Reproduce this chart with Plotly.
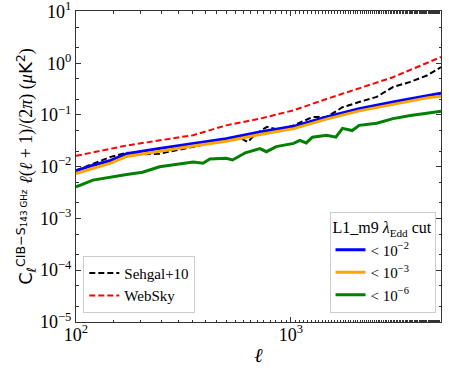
import plotly.graph_objects as go

# multipole values and spectra
ell_websky = [100, 172, 351, 500, 718, 1030, 1466, 2080, 2990, 5000]
cl_websky = [0.0162, 0.0257, 0.0407, 0.063, 0.085, 0.123, 0.204, 0.324, 0.537, 1.32]

ell_sehgal = [100, 120, 145, 172, 204, 245, 351, 500, 575, 630, 690, 775, 890,
              1030, 1260, 1466, 1740, 2080, 2510, 2990, 3600, 4300, 5000]
cl_sehgal = [0.0085, 0.0115, 0.0155, 0.0186, 0.0174, 0.0178, 0.024, 0.033, 0.037,
             0.030, 0.044, 0.059, 0.051, 0.063, 0.091, 0.091, 0.141, 0.178, 0.224,
             0.347, 0.437, 0.58, 0.84]

ell_cut = [100, 120, 145, 172, 245, 351, 500, 718, 1030, 1466, 2080, 2990, 4300, 5000]
cl_cut2 = [0.0083, 0.0107, 0.0132, 0.0178, 0.0224, 0.0282, 0.0347, 0.0468, 0.0603,
           0.0912, 0.132, 0.178, 0.240, 0.263]
cl_cut3 = [0.0074, 0.0094, 0.0117, 0.0158, 0.0200, 0.0252, 0.0310, 0.0420, 0.0545,
           0.0830, 0.120, 0.162, 0.214, 0.230]

ell_cut6 = [100, 120, 172, 204, 245, 351, 390, 420, 500, 535, 614, 718, 770, 855,
            1030, 1100, 1180, 1260, 1466, 1620, 1740, 1930, 2080, 2510, 2990, 3600,
            4300, 5000]
cl_cut6 = [0.0041, 0.0055, 0.0071, 0.0078, 0.0100, 0.0123, 0.0117, 0.0141, 0.0145,
           0.0135, 0.0186, 0.0224, 0.0195, 0.0245, 0.0282, 0.0324, 0.0288, 0.0372,
           0.0407, 0.0372, 0.055, 0.050, 0.063, 0.069, 0.085, 0.098, 0.108, 0.118]

font = "Liberation Serif"
dash = "6px,3px"

fig = go.Figure()
fig.add_trace(go.Scatter(x=ell_sehgal, y=cl_sehgal, mode="lines", name="Sehgal+10",
                         line=dict(color="black", width=2, dash=dash), legend="legend"))
fig.add_trace(go.Scatter(x=ell_websky, y=cl_websky, mode="lines", name="WebSky",
                         line=dict(color="red", width=2, dash=dash), legend="legend"))
fig.add_trace(go.Scatter(x=ell_cut, y=cl_cut2, mode="lines", name="&lt; 10<sup>−2</sup>",
                         line=dict(color="blue", width=3), legend="legend2"))
fig.add_trace(go.Scatter(x=ell_cut, y=cl_cut3, mode="lines", name="&lt; 10<sup>−3</sup>",
                         line=dict(color="orange", width=3), legend="legend2"))
fig.add_trace(go.Scatter(x=ell_cut6, y=cl_cut6, mode="lines", name="&lt; 10<sup>−6</sup>",
                         line=dict(color="green", width=3), legend="legend2"))

axis_common = dict(
    type="log", showgrid=False, zeroline=False, automargin=False,
    showline=True, linecolor="#333", linewidth=1, mirror="allticks",
    ticks="inside", ticklen=5, tickcolor="#333",
    minor=dict(ticks="inside", ticklen=2.5, tickcolor="#333", showgrid=False),
    tickfont=dict(family=font, size=18, color="black"),
    ticklabeloverflow="allow",
)

serif = "<span style='font-family:Liberation Serif'>"
ytitle = ("C<sub><i>ℓ</i></sub><sup>CIB−S<sub>143 GHz</sub></sup> "
          + serif + "<i>ℓ</i>(<i>ℓ</i> + 1)/(2<i>π</i>) (<i>μ</i></span>K<sup>2</sup>"
          + serif + ")</span>")

fig.update_layout(
    width=449, height=374,
    margin=dict(l=76, r=8, t=11, b=52),
    plot_bgcolor="white", paper_bgcolor="white",
    font=dict(family=font, color="black"),
    xaxis=dict(
        axis_common, range=[2, 3.699],
        tickvals=[100, 1000], ticktext=["10<sup>2</sup>", "10<sup>3</sup>"],
        ticklabelstandoff=-4,
        title=dict(text="<i>ℓ</i>", font=dict(family=font, size=20), standoff=4),
    ),
    yaxis=dict(
        axis_common, range=[-5.002, 1.01],
        tickvals=[1e-5, 1e-4, 1e-3, 1e-2, 1e-1, 1, 10],
        ticktext=["10<sup>−5</sup>", "10<sup>−4</sup>", "10<sup>−3</sup>", "10<sup>−2</sup>",
                  "10<sup>−1</sup>", "10<sup>0</sup>", "10<sup>1</sup>"],
        title=dict(text=ytitle, font=dict(family="DejaVu Sans", size=18), standoff=2),
    ),
    legend=dict(
        x=0.02, y=0.03, xanchor="left", yanchor="bottom",
        bgcolor="rgba(255,255,255,0.8)", bordercolor="#ccc", borderwidth=1,
        font=dict(family=font, size=15), itemwidth=30, tracegroupgap=0,
    ),
    legend2=dict(
        x=0.985, y=0.03, xanchor="right", yanchor="bottom",
        bgcolor="rgba(255,255,255,0.8)", bordercolor="#ccc", borderwidth=1,
        font=dict(family=font, size=15), itemwidth=30,
        title=dict(text="L1_m9 <i>λ</i><sub>Edd</sub> cut", side="top",
                   font=dict(family=font, size=16)),
    ),
)

# page body has a default 8px margin; drop it so the figure sits at the origin
fig.write_html("out.html", config={"displayModeBar": False},
               post_script="document.body.style.margin='0';")
